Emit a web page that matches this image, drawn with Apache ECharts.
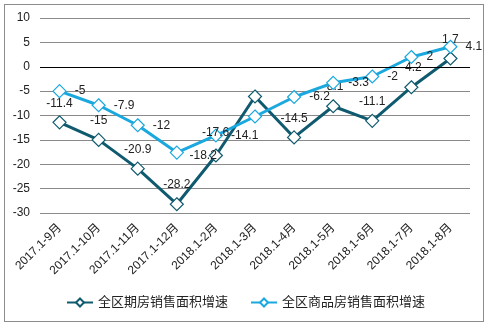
<!DOCTYPE html>
<html>
<head>
<meta charset="utf-8">
<script src="https://cdn.jsdelivr.net/npm/echarts@6/dist/echarts.min.js"></script>
<style>
html,body{margin:0;padding:0;background:#fff;}
#frame{position:absolute;left:4px;top:4px;width:480px;height:318px;border:1px solid #8c8c8c;box-sizing:border-box;}
#chart{position:absolute;left:0;top:0;width:491px;height:328px;}
</style>
</head>
<body>
<div id="frame"></div>
<div id="chart"></div>
<script>
// Period categories (cumulative months)
const categories = ['2017.1-9月','2017.1-10月','2017.1-11月','2017.1-12月','2018.1-2月','2018.1-3月','2018.1-4月','2018.1-5月','2018.1-6月','2018.1-7月','2018.1-8月'];
// 全区期房销售面积增速 (%)
const futuresGrowth = [-11.4, -15, -20.9, -28.2, -18.2, -6.1, -14.5, -8.1, -11.1, -4.2, 1.7];
// 全区商品房销售面积增速 (%)
const totalGrowth = [-5, -7.9, -12, -17.6, -14.1, -10.2, -6.2, -3.3, -2, 2, 4.1];
const seriesNames = ['全区期房销售面积增速', '全区商品房销售面积增速'];

const darkColor = '#0f5a6e';
const lightColor = '#1aa8de';
const font = 'Arial, "Liberation Sans", "Noto Sans CJK SC", sans-serif';

// labels hidden where the source chart shows none
const hiddenDark = [5];
const hiddenLight = [5];

function darkData() {
  return futuresGrowth.map((v, i) => {
    const item = { value: v };
    if (hiddenDark.includes(i)) item.label = { show: false };
    if (i === 4) item.label = { position: 'left', distance: 4, offset: [12, 0] };
    return item;
  });
}
function lightData() {
  return totalGrowth.map((v, i) => {
    const item = { value: v };
    if (hiddenLight.includes(i)) item.label = { show: false };
    if (i === 3) item.label = { position: 'right', offset: [10, -20] };
    return item;
  });
}

const chart = echarts.init(document.getElementById('chart'));
chart.setOption({
  animation: false,
  grid: { left: 40, right: 21, top: 18, bottom: 115, containLabel: false },
  xAxis: {
    type: 'category',
    data: categories,
    boundaryGap: true,
    axisLine: { show: false },
    axisTick: { show: false },
    axisLabel: { rotate: 45, color: '#222', fontFamily: font, fontSize: 12, margin: 13, interval: 0 }
  },
  yAxis: {
    type: 'value',
    min: -30, max: 10, interval: 5,
    axisLine: { show: false },
    axisTick: { show: false },
    axisLabel: { color: '#222', fontFamily: font, fontSize: 12, margin: 10 },
    splitLine: { lineStyle: { color: '#8a8a8a', width: 1 } }
  },
  legend: {
    data: seriesNames,
    bottom: 14,
    left: 'center',
    itemWidth: 26, itemHeight: 10, itemGap: 22,
    textStyle: { color: '#222', fontFamily: font, fontSize: 13 }
  },
  series: [
    {
      name: seriesNames[0],
      type: 'line',
      data: darkData(),
      symbol: 'diamond', symbolSize: 13,
      lineStyle: { color: darkColor, width: 3 },
      itemStyle: { color: '#fff', borderColor: darkColor, borderWidth: 1.2 },
      label: { show: true, position: 'top', distance: 6, color: '#222', fontFamily: font, fontSize: 12 },
      markLine: {
        silent: true, symbol: 'none', label: { show: false },
        lineStyle: { color: '#000', width: 1, type: 'solid' },
        data: [{ yAxis: 0 }]
      },
      z: 3
    },
    {
      name: seriesNames[1],
      type: 'line',
      data: lightData(),
      symbol: 'diamond', symbolSize: 13,
      lineStyle: { color: lightColor, width: 3 },
      itemStyle: { color: '#fff', borderColor: lightColor, borderWidth: 1.2 },
      label: { show: true, position: 'right', distance: 8, color: '#222', fontFamily: font, fontSize: 12 },
      z: 4
    }
  ]
});
</script>
</body>
</html>
